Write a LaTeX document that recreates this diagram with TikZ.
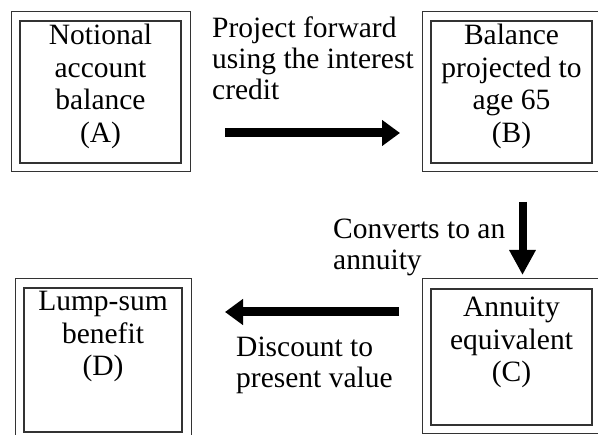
\documentclass[tikz,border=0pt]{standalone}
\usepackage{fontspec}
\setmainfont{Liberation Serif}
\usetikzlibrary{arrows.meta}
\begin{document}
\begin{tikzpicture}[x=1pt,y=-1pt,
  outerbox/.style={draw=black!80,line width=1pt},
  innerbox/.style={draw=black!80,line width=1.4pt},
  boxtext/.style={anchor=north,inner sep=0pt,align=center,font=\fontsize{29.5}{32.5}\selectfont},
  lbltext/.style={anchor=north west,inner sep=0pt,align=left,font=\fontsize{29.5}{31}\selectfont},
  bigarrow/.style={line width=9pt,-{Triangle[length=18pt,width=25pt]}},
  downarrow/.style={line width=8pt,-{Triangle[length=25pt,width=25pt]}}]
\useasboundingbox (0,0) rectangle (598,435);
\clip (0,0) rectangle (598,435);
% boxes
\draw[outerbox] (11,12) rectangle (190,172);
\draw[innerbox] (20,21) rectangle (181,163);
\draw[outerbox] (422,12) rectangle (601,172);
\draw[innerbox] (431,21) rectangle (592,163);
\draw[outerbox] (422,279) rectangle (601,434);
\draw[innerbox] (431,289) rectangle (592,425);
\draw[outerbox] (15,279) rectangle (191,441);
\draw[innerbox] (24,288) rectangle (182,432);
% anchors for connectors
\coordinate (Aout) at (190,133);
\coordinate (Bout) at (422,133);
\coordinate (Btop) at (522.5,202);
\coordinate (Cin) at (522.5,279);
\coordinate (Cout) at (422,312);
\coordinate (Dout) at (191,312);
% texts
\node[boxtext] (tA) at (100.5,24) {Notional\\account\\balance\\(A)};
\node[boxtext] (tB) at (511.5,24) {Balance\\projected to\\age 65\\(B)};
\node[boxtext] (tC) at (511.5,297) {Annuity\\equivalent\\(C)};
\node[boxtext] (tD) at (103,291) {Lump-sum\\benefit\\(D)};
\node[lbltext] (lAB) at (212,17) {Project forward\\using the interest\\credit};
\node[lbltext] (lBC) at (333,219) {Converts to an\\annuity};
\node[lbltext] (lCD) at (236,337) {Discount to\\present value};
% arrows
\draw[bigarrow,shorten <=35pt,shorten >=22pt] (Aout) -- (Bout);
\draw[downarrow,shorten >=4pt] (Btop) -- (Cin);
\draw[bigarrow,shorten <=23pt,shorten >=34pt] (Cout) -- (Dout);
\end{tikzpicture}
\end{document}
